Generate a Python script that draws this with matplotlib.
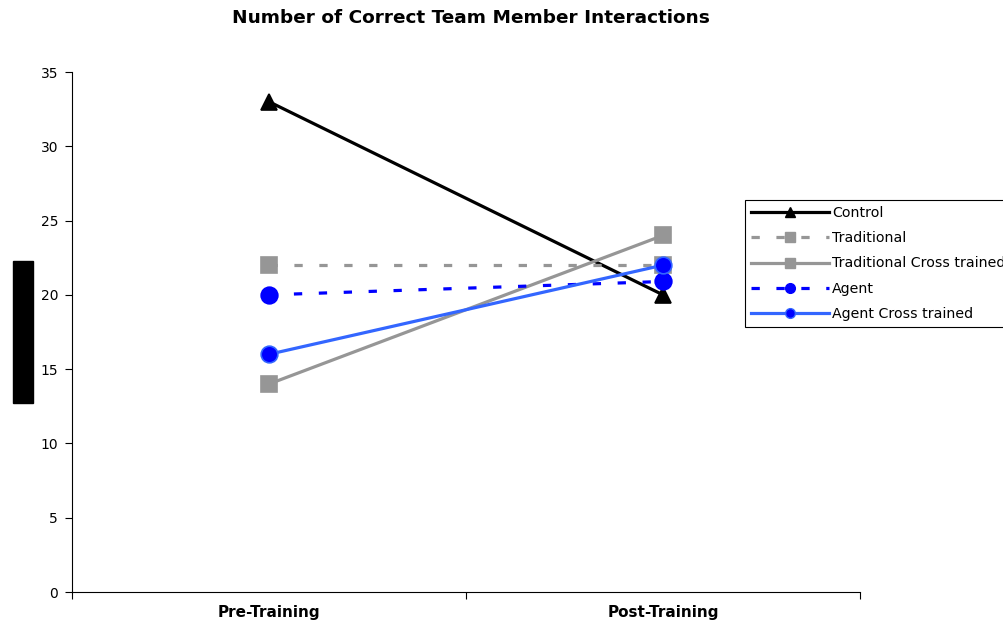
import matplotlib
matplotlib.use("Agg")
import matplotlib.pyplot as plt
from matplotlib.lines import Line2D
from matplotlib.patches import Rectangle

plt.rcParams['font.family'] = ['DejaVu Sans']

categories = ["Pre-Training", "Post-Training"]
series_names = ["Control", "Traditional", "Traditional Cross trained", "Agent", "Agent Cross trained"]
control = [33, 20]
traditional = [22, 22]
traditional_cross = [14, 24]
agent = [20, 20.9]
agent_cross = [16, 22]
y_ticks = [0, 5, 10, 15, 20, 25, 30, 35]

fig = plt.figure(figsize=(10.04, 6.22), dpi=100)
ax = fig.add_axes([72/1004, 30/622, 788/1004, 520/622])

x = list(range(len(categories)))
lw = 2.3
styles = [
    dict(color='black', ls='-', marker='^', mfc='black', mec='black'),
    dict(color='#969696', ls=(0, (2.6, 5.2)), marker='s', mfc='#969696', mec='#969696'),
    dict(color='#969696', ls='-', marker='s', mfc='#969696', mec='#969696'),
    dict(color='#0000FF', ls=(0, (2.6, 5.2)), marker='o', mfc='#0000FF', mec='#0000FF'),
    dict(color='#3366FF', ls='-', marker='o', mfc='#0000FF', mec='#3366FF'),
]
data = [control, traditional, traditional_cross, agent, agent_cross]
for vals, st in zip(data, styles):
    ax.plot(x, vals, lw=lw, ms=12, mew=1.2, clip_on=False, **st)

ax.set_xlim(-0.5, 1.5)
ax.set_ylim(0, 35)
ax.set_yticks(y_ticks)
ax.set_xticks(x)
ax.set_xticklabels(categories, fontweight='bold', fontsize=11)
ax.set_xticks([-0.5, 0.5, 1.5], minor=True)
ax.tick_params(axis='x', which='major', length=0, pad=9)
ax.tick_params(axis='x', which='minor', length=5, direction='out', width=0.8)
ax.tick_params(axis='y', length=5, direction='out', width=0.8, labelsize=10, pad=5)
for s in ['top', 'right']:
    ax.spines[s].set_visible(False)
for s in ['left', 'bottom']:
    ax.spines[s].set_linewidth(0.8)

fig.text(471/1004, 1 - 18/622, "Number of Correct Team Member Interactions",
         ha='center', va='center', fontsize=13.3, fontweight='bold')

# black box obscuring y-label
fig.add_artist(Rectangle((13/1004, 1 - 403/622), 20/1004, 142/622,
                         transform=fig.transFigure, color='black'))

handles = [Line2D([], [], lw=lw, ms=7, **st) for st in styles]
leg = fig.legend(handles, series_names, loc='upper left',
                 bbox_to_anchor=(745/1004, 1 - 200/622), fontsize=10.2,
                 frameon=True, fancybox=False, handlelength=5.5, handletextpad=0.2,
                 labelspacing=0.78, borderpad=0.45, borderaxespad=0, framealpha=1)
leg.get_frame().set_edgecolor('black')
leg.get_frame().set_linewidth(0.8)

fig.savefig("out.png", dpi=100)
